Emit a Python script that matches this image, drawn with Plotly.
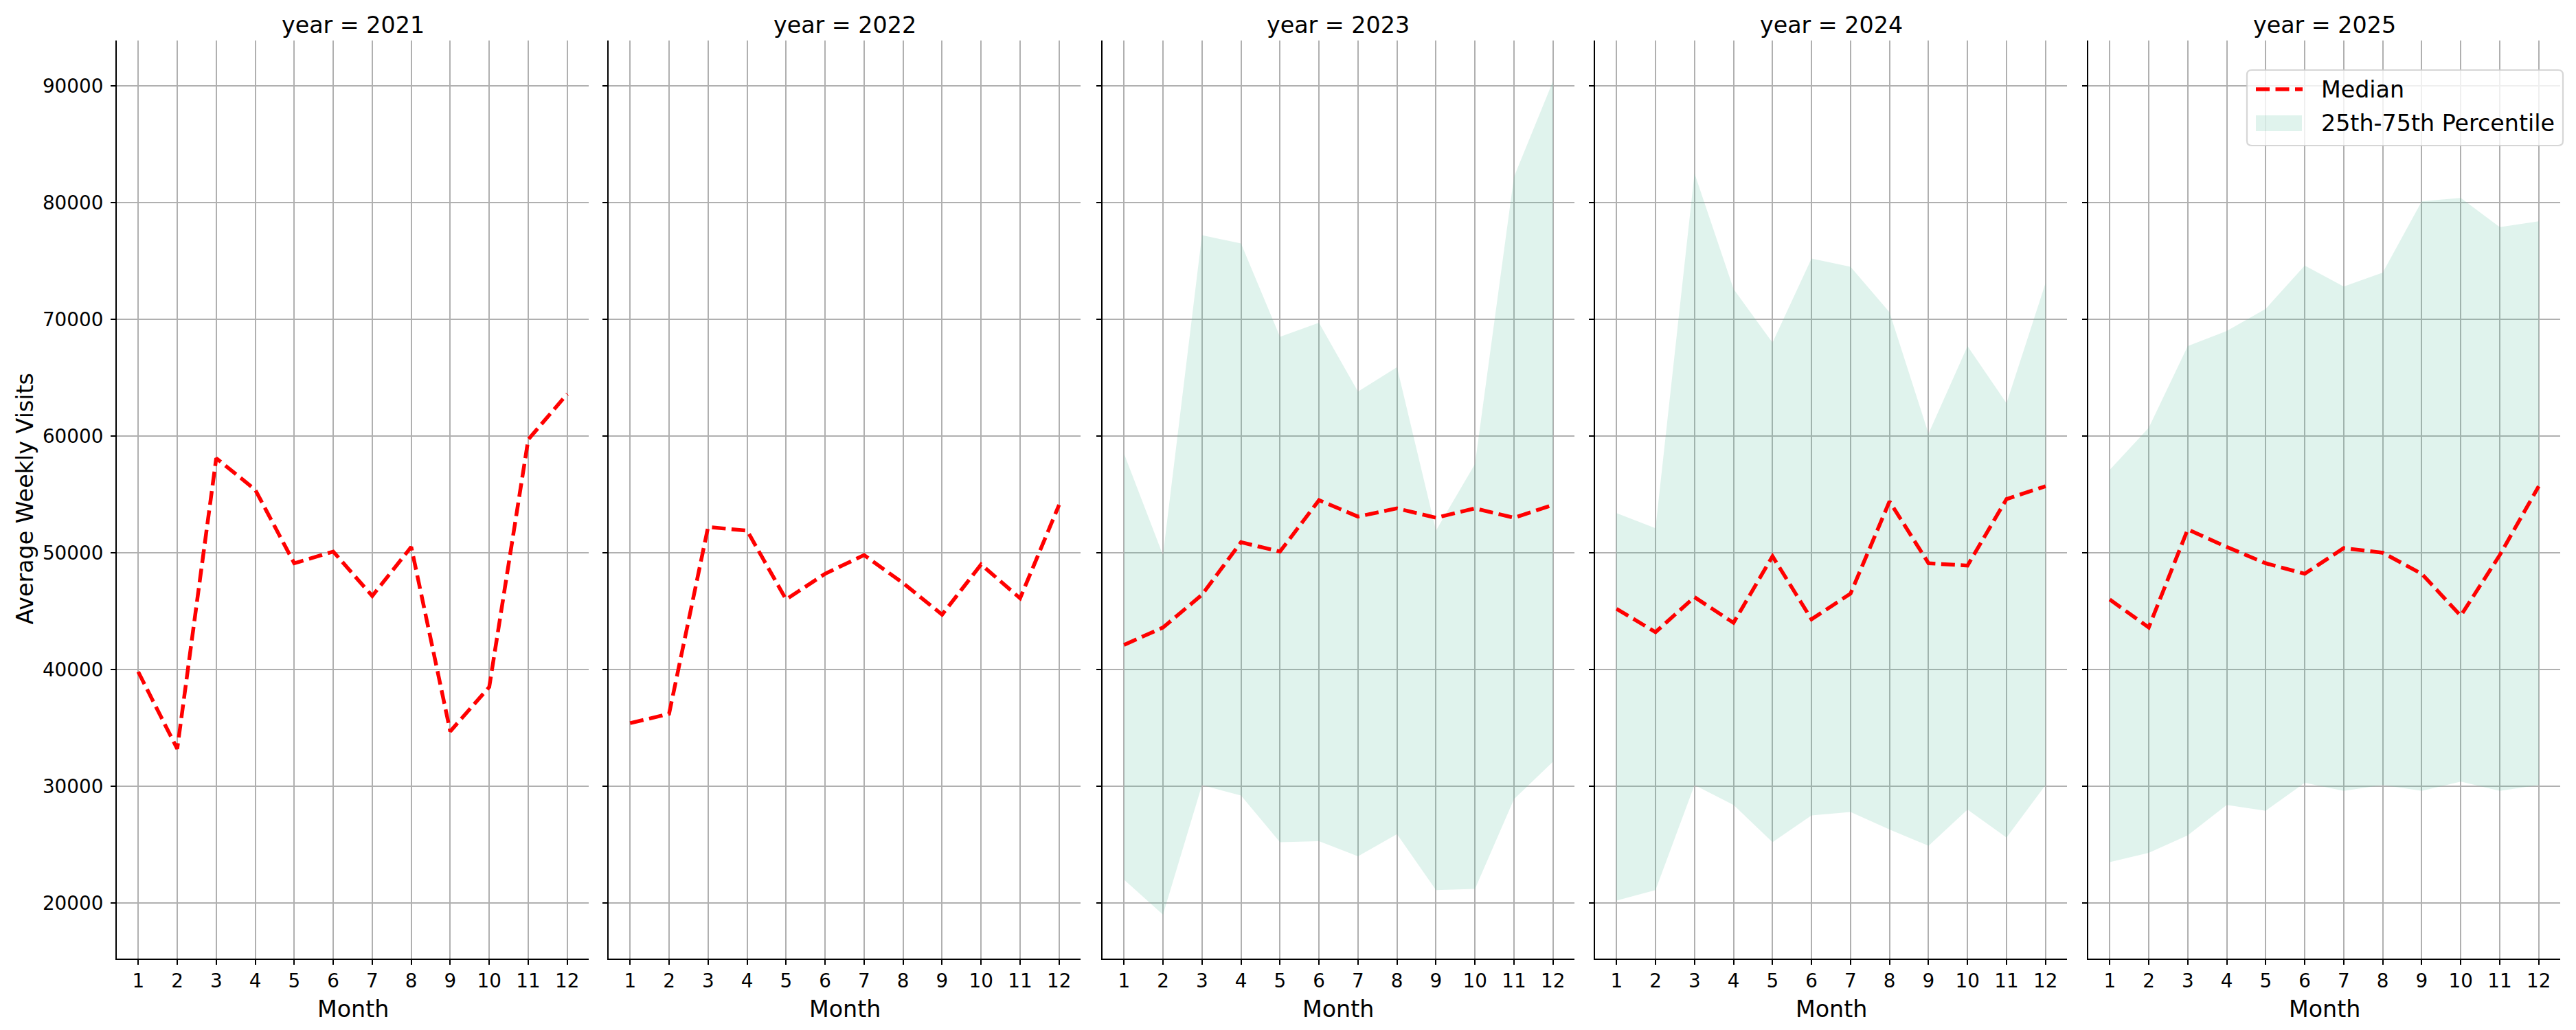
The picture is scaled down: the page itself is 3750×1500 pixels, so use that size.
import plotly.graph_objects as go

W, H = 3750, 1500

months = list(range(1, 13))
month_labels = [str(m) for m in months]
years = [2021, 2022, 2023, 2024, 2025]
y_ticks = [20000, 30000, 40000, 50000, 60000, 70000, 80000, 90000]
y_tick_labels = [str(v) for v in y_ticks]

median_2021 = [39800, 33200, 58100, 55400, 49100, 50100, 46300, 50500, 34700, 38500, 59700, 63600]
median_2022 = [35400, 36200, 52200, 51900, 46000, 48200, 49800, 47400, 44700, 49000, 46100, 54100]
median_2023 = [42100, 43600, 46400, 50900, 50100, 54500, 53100, 53800, 53000, 53800, 53000, 54100]
median_2024 = [45200, 43200, 46200, 44000, 49700, 44300, 46500, 54400, 49100, 48900, 54600, 55700]
median_2025 = [46000, 43600, 52000, 50500, 49100, 48200, 50400, 50000, 48200, 44600, 49800, 55700]

p25_2023 = [22000, 19000, 30100, 29200, 25200, 25300, 24000, 25900, 21100, 21200, 28900, 32100]
p75_2023 = [58500, 49800, 77200, 76500, 68500, 69700, 63800, 65900, 51900, 57600, 82200, 90400]
p25_2024 = [20200, 21100, 30100, 28400, 25200, 27500, 27800, 26300, 24900, 28000, 25600, 30100]
p75_2024 = [53400, 52100, 82500, 72600, 68000, 75200, 74500, 70600, 60200, 67700, 62800, 73100]
p25_2025 = [23500, 24300, 25800, 28400, 27900, 30300, 29600, 30100, 29600, 30400, 29600, 30100]
p75_2025 = [57100, 60700, 67700, 69000, 70900, 74600, 72800, 74000, 80100, 80400, 77900, 78400]

legend_labels = ["Median", "25th-75th Percentile"]

medians = {2021: median_2021, 2022: median_2022, 2023: median_2023, 2024: median_2024, 2025: median_2025}
p25s = {2023: p25_2023, 2024: p25_2024, 2025: p25_2025}
p75s = {2023: p75_2023, 2024: p75_2024, 2025: p75_2025}

# layout (pixels)
panel_left = [170, 886, 1605, 2322, 3040]
panel_w = 687
plot_top, plot_bottom = 59, 1396

FONT = "DejaVu Sans"
LABEL_SIZE = 33.3
TICK_SIZE = 27.8
FILL = "rgba(102,194,165,0.2)"
GRID = "#b0b0b0"
DASH = "20px,8.5px"

fig = go.Figure()

for i, yr in enumerate(years):
    sfx = "" if i == 0 else str(i + 1)
    xa, ya = "x" + sfx, "y" + sfx
    if yr in p25s:
        fig.add_trace(go.Scatter(
            x=months, y=p25s[yr], xaxis=xa, yaxis=ya, mode="lines",
            line=dict(width=0, color=FILL), showlegend=False, hoverinfo="skip"))
        fig.add_trace(go.Scatter(
            x=months, y=p75s[yr], xaxis=xa, yaxis=ya, mode="lines",
            line=dict(width=0, color=FILL), fill="tonexty", fillcolor=FILL,
            name=legend_labels[1], showlegend=False))
    fig.add_trace(go.Scatter(
        x=months, y=medians[yr], xaxis=xa, yaxis=ya, mode="lines",
        line=dict(color="red", width=5.5, dash=DASH),
        name=legend_labels[0], showlegend=False))

    axis_common = dict(
        showgrid=True, gridcolor=GRID, gridwidth=2.2, zeroline=False,
        showline=True, linecolor="black", linewidth=2.2,
        ticks="outside", ticklen=7, tickwidth=2.2, tickcolor="black",
        tickfont=dict(family=FONT, size=TICK_SIZE, color="black"),
        automargin=False, fixedrange=True,
    )
    fig.layout["xaxis" + sfx] = dict(
        domain=[panel_left[i] / W, (panel_left[i] + panel_w) / W],
        range=[0.45, 12.55], tickmode="array", tickvals=months, ticktext=month_labels,
        anchor=ya, **axis_common)
    fig.layout["yaxis" + sfx] = dict(
        domain=[1 - plot_bottom / H, 1 - plot_top / H],
        range=[15235, 93880], tickmode="array", tickvals=y_ticks, ticktext=y_tick_labels,
        showticklabels=(i == 0), ticklabelstandoff=5, anchor=xa, **axis_common)

    cx = (panel_left[i] + panel_w / 2) / W
    fig.add_annotation(text=f"year = {yr}", x=cx, y=1 - 36.5 / H, xref="paper", yref="paper",
                       xanchor="center", yanchor="middle", showarrow=False,
                       font=dict(family=FONT, size=LABEL_SIZE, color="black"))
    fig.add_annotation(text="Month", x=cx, y=1 - 1469.5 / H, xref="paper", yref="paper",
                       xanchor="center", yanchor="middle", showarrow=False,
                       font=dict(family=FONT, size=LABEL_SIZE, color="black"))

fig.add_annotation(text="Average Weekly Visits", x=35.5 / W, y=1 - 727 / H, xref="paper", yref="paper",
                   xanchor="center", yanchor="middle", textangle=-90, showarrow=False,
                   font=dict(family=FONT, size=LABEL_SIZE, color="black"))

# legend box (matplotlib-style, upper right of last panel)
def px(x):
    return x / W

def py(y):
    return 1 - y / H

bx0, bx1, by0, by1, r = 3271, 3731, 102, 212, 7
box_path = (
    f"M {px(bx0 + r)},{py(by0)} L {px(bx1 - r)},{py(by0)} Q {px(bx1)},{py(by0)} {px(bx1)},{py(by0 + r)} "
    f"L {px(bx1)},{py(by1 - r)} Q {px(bx1)},{py(by1)} {px(bx1 - r)},{py(by1)} "
    f"L {px(bx0 + r)},{py(by1)} Q {px(bx0)},{py(by1)} {px(bx0)},{py(by1 - r)} "
    f"L {px(bx0)},{py(by0 + r)} Q {px(bx0)},{py(by0)} {px(bx0 + r)},{py(by0)} Z"
)
fig.add_shape(type="path", path=box_path, xref="paper", yref="paper", layer="above",
              fillcolor="rgba(255,255,255,0.8)", line=dict(color="rgba(204,204,204,0.8)", width=2.2))
fig.add_shape(type="line", x0=px(3284), x1=px(3352), y0=py(130), y1=py(130),
              xref="paper", yref="paper", layer="above",
              line=dict(color="red", width=5.5, dash=DASH))
fig.add_shape(type="rect", x0=px(3284), x1=px(3351), y0=py(168), y1=py(191),
              xref="paper", yref="paper", layer="above",
              fillcolor=FILL, line=dict(width=0))
for lbl, yc in zip(legend_labels, [130.5, 179.5]):
    fig.add_annotation(text=lbl, x=px(3377), y=py(yc), xref="paper", yref="paper",
                       xanchor="left", yanchor="middle", showarrow=False,
                       font=dict(family=FONT, size=LABEL_SIZE, color="black"))

fig.update_layout(
    width=W, height=H, template="none",
    margin=dict(l=0, r=0, t=0, b=0, autoexpand=False),
    paper_bgcolor="white", plot_bgcolor="white",
    font=dict(family=FONT, color="black"),
    showlegend=False,
)

fig.write_html("out.html")
